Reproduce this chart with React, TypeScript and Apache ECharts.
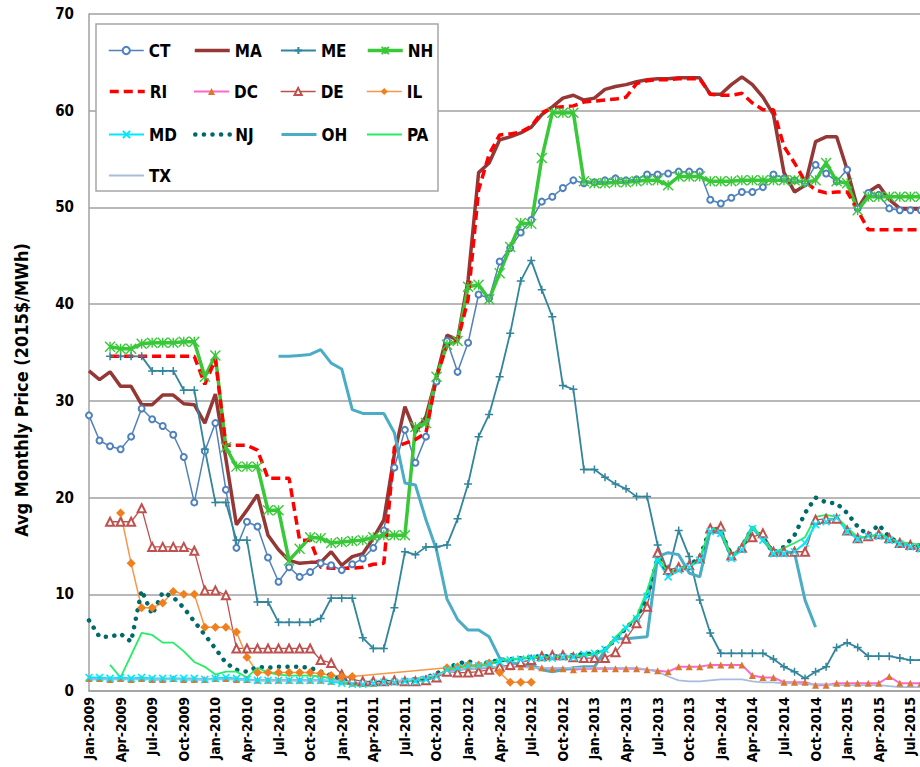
import React, { useEffect, useRef } from "react";
import * as echarts from "echarts";

const MONTHS = ["Jan", "Feb", "Mar", "Apr", "May", "Jun", "Jul", "Aug", "Sep", "Oct", "Nov", "Dec"];
const YEARS = [2009, 2010, 2011, 2012, 2013, 2014, 2015];
const CATEGORIES = YEARS.flatMap((y) => MONTHS.map((m) => `${m}-${y}`));

const N = null;
const CT = [28.5, 25.9, 25.3, 25.0, 26.3, 29.2, 28.1, 27.4, 26.5, 24.2, 19.5, 24.8, 27.7, 20.8, 14.8, 17.5, 17.0, 13.8, 11.3, 12.8, 11.8, 12.3, 13.2, 13.0, 12.5, 13.1, 13.7, 14.8, 16.6, 23.1, 27.0, 23.6, 26.3, 32.0, 36.2, 33.0, 36.0, 41.0, 40.6, 44.4, 45.8, 47.4, 48.7, 50.6, 51.1, 52.0, 52.8, 52.5, 52.6, 52.8, 53.0, 52.8, 52.9, 53.4, 53.4, 53.5, 53.7, 53.7, 53.7, 50.8, 50.4, 51.0, 51.6, 51.6, 52.1, 53.4, 53.0, 52.8, 52.5, 54.4, 53.5, 52.7, 53.9, 49.9, 51.5, 51.3, 49.9, 49.7, 49.7, 49.7];
const MA = [33.1, 32.2, 33.0, 31.5, 31.5, 29.6, 29.6, 30.6, 30.6, 29.7, 29.6, 27.7, 30.7, 24.0, 17.2, 18.7, 20.3, 16.1, 14.6, 13.5, 13.2, 13.3, 13.3, 14.4, 13.0, 13.9, 14.2, 15.8, 17.7, 24.5, 29.4, 26.7, 28.4, 32.5, 36.8, 36.3, 42.5, 53.6, 54.6, 57.0, 57.3, 57.7, 58.3, 59.6, 60.4, 61.3, 61.6, 61.1, 61.3, 62.2, 62.5, 62.7, 63.0, 63.2, 63.3, 63.3, 63.4, 63.4, 63.4, 61.7, 61.7, 62.7, 63.5, 62.7, 61.4, 59.6, 53.6, 51.6, 52.3, 56.8, 57.3, 57.3, 53.9, 49.9, 51.6, 52.3, 50.8, 49.9, 49.9, 49.9];
const ME = [N, N, 34.6, 34.6, 34.6, 34.6, 33.1, 33.1, 33.1, 31.1, 31.1, 25.0, 19.5, 19.5, 15.6, 15.6, 9.2, 9.2, 7.1, 7.1, 7.1, 7.1, 7.5, 9.6, 9.6, 9.6, 5.5, 4.4, 4.4, 8.6, 14.4, 14.1, 14.9, 14.9, 15.1, 17.8, 21.4, 26.3, 28.6, 32.5, 37.0, 42.4, 44.5, 41.5, 38.7, 31.6, 31.2, 22.9, 22.9, 22.1, 21.4, 20.9, 20.1, 20.1, 15.1, 12.3, 16.6, 13.9, 9.4, 6.0, 3.9, 3.9, 3.9, 3.9, 3.9, 3.3, 2.5, 2.0, 1.3, 2.0, 2.5, 4.5, 5.0, 4.5, 3.6, 3.6, 3.6, 3.4, 3.2, 3.2];
const NH = [N, N, 35.6, 35.4, 35.4, 35.9, 36.0, 36.0, 36.0, 36.1, 36.1, 32.5, 34.7, 25.2, 23.2, 23.2, 23.2, 18.7, 18.7, 13.5, 14.7, 15.9, 15.8, 15.3, 15.4, 15.5, 15.6, 15.9, 16.1, 16.1, 16.1, 27.3, 27.7, 32.5, 35.8, 36.2, 41.8, 42.0, 40.5, 43.2, 45.9, 48.4, 48.3, 55.1, 59.8, 59.8, 59.8, 52.7, 52.5, 52.5, 52.6, 52.6, 52.7, 52.8, 52.8, 52.3, 53.2, 53.2, 53.2, 52.7, 52.7, 52.7, 52.8, 52.8, 52.8, 52.8, 52.8, 52.8, 52.6, 52.8, 54.6, 52.7, 52.5, 49.7, 51.1, 51.1, 51.1, 51.1, 51.1, 51.1];
const RI = [N, N, 34.6, 34.6, 34.6, 34.6, 34.6, 34.6, 34.6, 34.6, 34.6, 31.7, 34.3, 25.4, 25.4, 25.4, 24.9, 22.0, 22.0, 22.0, 15.6, 15.6, 12.8, 12.7, 12.7, 12.7, 12.8, 13.1, 13.2, 25.2, 25.6, 26.0, 26.7, 32.5, 35.8, 36.2, 40.5, 51.8, 55.5, 57.5, 57.6, 57.8, 58.4, 59.8, 60.3, 60.4, 60.5, 60.9, 61.0, 61.1, 61.2, 61.4, 62.8, 63.1, 63.2, 63.2, 63.3, 63.3, 63.3, 61.7, 61.6, 61.6, 61.8, 60.8, 60.1, 60.1, 56.3, 54.6, 52.7, 51.8, 51.5, 51.6, 51.6, 49.7, 47.7, 47.7, 47.7, 47.7, 47.7, 47.7];
const DC = [1.3, 1.3, 1.2, 1.3, 1.2, 1.3, 1.2, 1.2, 1.3, 1.2, 1.2, 1.2, 1.3, 1.3, 1.2, 1.2, 1.1, 1.1, 1.1, 1.1, 1.1, 1.1, 1.1, 1.0, 1.0, 0.8, 0.8, 0.8, 0.9, 1.0, 1.1, 1.2, 1.3, 1.5, 2.0, 2.2, 2.3, 2.3, 2.4, 2.5, 2.5, 2.5, 2.5, 2.4, 2.3, 2.3, 2.2, 2.3, 2.3, 2.3, 2.3, 2.3, 2.3, 2.2, 2.1, 2.0, 2.5, 2.5, 2.5, 2.7, 2.7, 2.7, 2.7, 1.6, 1.4, 1.4, 0.9, 0.9, 0.9, 0.6, 0.6, 0.8, 0.8, 0.8, 0.8, 0.8, 1.5, 0.8, 0.8, 0.8];
const DE = [N, N, 17.5, 17.5, 17.5, 18.9, 14.9, 14.9, 14.9, 14.9, 14.5, 10.4, 10.4, 9.9, 4.4, 4.4, 4.4, 4.4, 4.4, 4.4, 4.4, 4.4, 3.2, 2.9, 1.7, 1.2, 1.0, 1.0, 1.0, 1.1, 1.0, 1.0, 1.1, 1.4, 2.0, 1.9, 1.9, 2.0, 2.2, 2.5, 2.7, 3.0, 3.2, 3.6, 3.7, 3.7, 3.5, 3.4, 3.4, 3.4, 4.0, 5.4, 7.0, 8.7, 14.3, 12.5, 12.8, 13.0, 13.7, 16.8, 17.0, 14.0, 14.8, 15.9, 16.3, 14.4, 14.4, 14.4, 14.4, 17.7, 17.8, 17.8, 16.6, 15.8, 16.0, 16.2, 15.8, 15.3, 15.1, 14.9];
const IL = [N, N, N, 18.4, 13.2, 8.6, 8.6, 9.1, 10.3, 10.0, 10.0, 6.6, 6.6, 6.6, 6.1, 3.5, 1.9, 1.9, 1.9, 1.9, 1.9, 1.9, 1.8, 1.6, 1.5, 1.5, N, N, N, N, N, N, N, N, 2.4, 2.5, 2.7, 2.7, 2.9, 1.9, 0.9, 0.9, 0.9];
const MD = [1.4, 1.4, 1.3, 1.4, 1.3, 1.4, 1.3, 1.3, 1.3, 1.3, 1.3, 1.2, 1.3, 1.4, 1.3, 1.2, 1.1, 1.1, 1.1, 1.1, 1.1, 1.1, 1.1, 1.0, 0.8, 0.7, 0.7, 0.8, 0.9, 0.9, 1.0, 1.0, 1.2, 1.5, 2.2, 2.4, 2.6, 2.6, 2.8, 3.0, 3.2, 3.3, 3.4, 3.4, 3.4, 3.5, 3.5, 3.8, 3.9, 4.3, 5.3, 6.5, 7.5, 9.8, 13.5, 11.8, 12.5, 12.8, 13.5, 16.5, 16.3, 13.7, 14.6, 16.8, 15.6, 14.2, 14.2, 14.4, 15.3, 17.2, 17.5, 17.9, 16.5, 15.7, 16.0, 16.0, 15.6, 15.2, 14.9, 14.7];
const NJ = [7.3, 5.6, 5.6, 5.9, 5.1, 10.4, 7.9, 10.2, 9.7, 8.6, 7.2, 5.8, 4.4, 2.9, 2.2, 2.0, 2.5, 2.4, 2.5, 2.5, 2.5, 2.4, 2.0, 1.6, 1.2, 0.8, 0.7, 0.8, 0.9, 1.0, 1.1, 1.2, 1.4, 1.8, 2.4, 2.8, 3.1, 2.7, 3.0, 3.2, 3.3, 3.4, 3.5, 3.6, 3.6, 3.7, 3.7, 3.8, 3.9, 4.3, 5.3, 6.5, 7.6, 9.6, 13.8, 12.3, 12.8, 13.0, 13.8, 16.8, 16.5, 14.0, 14.9, 16.9, 15.8, 14.3, 14.9, 16.1, 18.4, 20.0, 19.5, 19.4, 18.4, 17.0, 16.1, 17.2, 15.9, 15.3, 15.2, 15.0];
const OH = [N, N, N, N, N, N, N, N, N, N, N, N, N, N, N, N, N, N, 34.6, 34.6, 34.7, 34.8, 35.3, 33.9, 33.3, 29.1, 28.7, 28.7, 28.7, 26.7, 21.5, 21.3, 17.7, 14.6, 9.5, 7.4, 6.3, 6.3, 5.6, 3.4, 3.0, 2.7, 2.7, 2.2, 2.0, 2.2, 2.4, 2.5, 2.5, 4.2, 5.4, 5.4, 5.5, 5.6, 13.9, 14.3, 14.1, 12.2, 11.8, 16.6, 16.3, 13.9, 14.9, 17.0, 15.6, 14.4, 14.4, 14.3, 9.4, 6.6];
const PA = [N, N, 2.7, 1.4, 3.7, 6.0, 5.8, 5.0, 5.0, 4.1, 3.0, 2.5, 1.7, 2.0, 2.0, 1.4, 2.4, 1.9, 1.7, 1.6, 1.6, 1.6, 1.5, 1.3, 0.9, 0.6, 0.5, 0.6, 0.8, 1.0, 1.1, 1.2, 1.4, 1.6, 2.2, 2.4, 2.6, 2.5, 2.8, 3.2, 3.3, 3.4, 3.5, 3.5, 3.5, 3.5, 3.6, 3.7, 3.8, 4.2, 5.6, 6.6, 7.7, 10.4, 13.9, 12.2, 12.7, 12.8, 13.7, 16.9, 16.5, 13.9, 14.8, 17.0, 15.8, 14.3, 14.8, 15.3, 15.9, 18.0, 18.2, 18.0, 16.9, 15.9, 15.9, 16.3, 15.8, 15.4, 15.3, 15.1];
const TX = [1.2, 1.2, 1.2, 1.2, 1.2, 1.2, 1.2, 1.2, 1.2, 1.2, 1.2, 1.2, 1.2, 1.2, 1.2, 1.1, 1.1, 1.1, 1.1, 1.1, 1.1, 1.1, 1.1, 1.1, 1.0, 0.9, 0.8, 0.8, 0.9, 1.0, 1.1, 1.3, 1.5, 1.7, 1.9, 2.1, 2.3, 2.4, 2.5, 2.5, 2.5, 2.5, 2.4, 2.4, 2.4, 2.4, 2.4, 2.4, 2.4, 2.4, 2.4, 2.4, 2.4, 2.2, 2.0, 1.5, 1.1, 1.0, 1.0, 1.1, 1.2, 1.2, 1.2, 1.0, 0.9, 0.9, 0.8, 0.8, 0.7, 0.7, 0.7, 0.6, 0.6, 0.6, 0.6, 0.6, 0.5, 0.4, 0.4, 0.4];

const Y_TICKS = [0, 10, 20, 30, 40, 50, 60, 70];
const Y_TITLE = "Avg Monthly Price (2015$/MWh)";

const FONT = "'Liberation Sans Narrow', 'DejaVu Sans Condensed', 'Arial Narrow', sans-serif";

const PLUS = "path://M5,0L5,10M0,5L10,5";
const CROSS = "path://M0,0L10,10M10,0L0,10";
const STAR = "path://M0,0L10,10M10,0L0,10M5,0L5,10";

type Def = { name: string; data: (number | null)[]; marker: boolean; opt: any };

const DEFS: Def[] = [
  { name: "CT", data: CT, marker: true, opt: { color: "#4F81BD", lineStyle: { width: 1.5 }, symbol: "emptyCircle", symbolSize: 6, itemStyle: { color: "#4F81BD", borderWidth: 1.2 } } },
  { name: "MA", data: MA, marker: false, opt: { color: "#953735", lineStyle: { width: 3.5 }, symbol: "none" } },
  { name: "ME", data: ME, marker: true, opt: { color: "#31859C", lineStyle: { width: 1.8 }, symbol: PLUS, symbolSize: 8, itemStyle: { color: "#31859C", borderColor: "#31859C", borderWidth: 1.5 } } },
  { name: "NH", data: NH, marker: true, opt: { color: "#38C838", lineStyle: { width: 3.5 }, symbol: STAR, symbolSize: 10, itemStyle: { color: "#38C838", borderColor: "#38C838", borderWidth: 1.4 } } },
  { name: "RI", data: RI, marker: false, opt: { color: "#FF0000", lineStyle: { width: 3.5, type: [9, 5] }, symbol: "none" } },
  { name: "DC", data: DC, marker: true, opt: { color: "#D9782F", lineStyle: { width: 2, color: "#FF66CC" }, symbol: "triangle", symbolSize: 7, itemStyle: { color: "#D9782F" } } },
  { name: "DE", data: DE, marker: true, opt: { color: "#C0504D", lineStyle: { width: 1.3 }, symbol: "emptyTriangle", symbolSize: 8, itemStyle: { color: "#C0504D", borderWidth: 1.2 } } },
  { name: "IL", data: IL, marker: true, opt: { color: "#F07F1E", lineStyle: { width: 1.5, color: "#F79646" }, symbol: "diamond", symbolSize: 9, connectNulls: true, itemStyle: { color: "#F07F1E" } } },
  { name: "MD", data: MD, marker: true, opt: { color: "#00E8FF", lineStyle: { width: 2 }, symbol: CROSS, symbolSize: 7, itemStyle: { color: "#00E8FF", borderColor: "#00E8FF", borderWidth: 1.6 } } },
  { name: "NJ", data: NJ, marker: false, opt: { color: "#006A6A", lineStyle: { width: 4.5, type: [0.1, 8.5], cap: "round" }, symbol: "none" } },
  { name: "OH", data: OH, marker: false, opt: { color: "#4BACC6", lineStyle: { width: 3 }, symbol: "none" } },
  { name: "PA", data: PA, marker: false, opt: { color: "#22EE66", lineStyle: { width: 1.8 }, symbol: "none" } },
  { name: "TX", data: TX, marker: false, opt: { color: "#A9BCDD", lineStyle: { width: 1.8 }, symbol: "none" } },
];

const LEG_COL_X = [108, 193, 280, 366];
const LEG_ROW_CENTER = [47, 88, 131, 172];

const CHART_W = 975;
const GRID_LEFT = 89;
const MONTH_PX = 10.53;

export default function App() {
  const ref = useRef<HTMLDivElement>(null);
  useEffect(() => {
    if (!ref.current) return;
    const chart = echarts.init(ref.current, undefined, { renderer: "svg" });
    const series = DEFS.map((d) => ({
      type: "line",
      name: d.name,
      data: d.data,
      z: 2,
      showAllSymbol: true,
      ...d.opt,
    }));
    const legends = DEFS.map((d, i) => ({
      data: [
        d.marker
          ? { name: d.name }
          : { name: d.name, itemStyle: { color: "rgba(0,0,0,0)", borderColor: "rgba(0,0,0,0)", borderWidth: 0 } },
      ],
      left: LEG_COL_X[i % 4],
      top: LEG_ROW_CENTER[Math.floor(i / 4)] - 5,
      padding: 0,
      itemWidth: 35,
      itemHeight: 9,
      selectedMode: false,
      z: 10,
      lineStyle: { width: "inherit" },
      textStyle: { fontFamily: FONT, fontSize: 17, color: "#000", fontWeight: "bold" },
    }));
    const gridWidth = MONTH_PX * (CATEGORIES.length - 1);
    chart.setOption({
      animation: false,
      backgroundColor: "#fff",
      grid: { left: GRID_LEFT, width: gridWidth, top: 14, bottom: 76, containLabel: false },
      xAxis: {
        type: "category",
        data: CATEGORIES,
        boundaryGap: false,
        axisLine: { lineStyle: { color: "#A0A0A0", width: 1.5 } },
        axisTick: { show: false },
        axisLabel: { interval: 2, rotate: 90, fontFamily: FONT, fontSize: 14, color: "#000", fontWeight: "bold", margin: 6 },
        splitLine: { show: false },
      },
      yAxis: {
        type: "value",
        min: 0,
        max: 70,
        interval: 10,
        axisLine: { show: true, lineStyle: { color: "#A0A0A0", width: 1.5 } },
        axisTick: { show: false },
        axisLabel: {
          fontFamily: FONT,
          fontSize: 15,
          color: "#000",
          fontWeight: "bold",
          margin: 15,
          formatter: (v: number) => (Y_TICKS.includes(v) ? String(v) : ""),
        },
        splitLine: { lineStyle: { color: "#A0A0A0", width: 1.5 } },
      },
      legend: legends,
      graphic: [
        {
          type: "rect",
          z: 5,
          shape: { x: 96, y: 24, width: 342, height: 167 },
          style: { fill: "#fff", stroke: "#A6A6A6", lineWidth: 1.5 },
        },
        {
          type: "text",
          z: 5,
          x: 21,
          y: 390,
          rotation: Math.PI / 2,
          style: {
            text: Y_TITLE,
            fontFamily: FONT,
            fontSize: 18,
            fontWeight: "bold",
            fill: "#000",
            align: "center",
            verticalAlign: "middle",
          },
        },
      ],
      series,
    });
    return () => chart.dispose();
  }, []);
  return (
    <div style={{ position: "absolute", left: 0, top: 0, width: 920, height: 767, overflow: "hidden", background: "#fff" }}>
      <div ref={ref} style={{ width: CHART_W, height: 767 }} />
    </div>
  );
}
